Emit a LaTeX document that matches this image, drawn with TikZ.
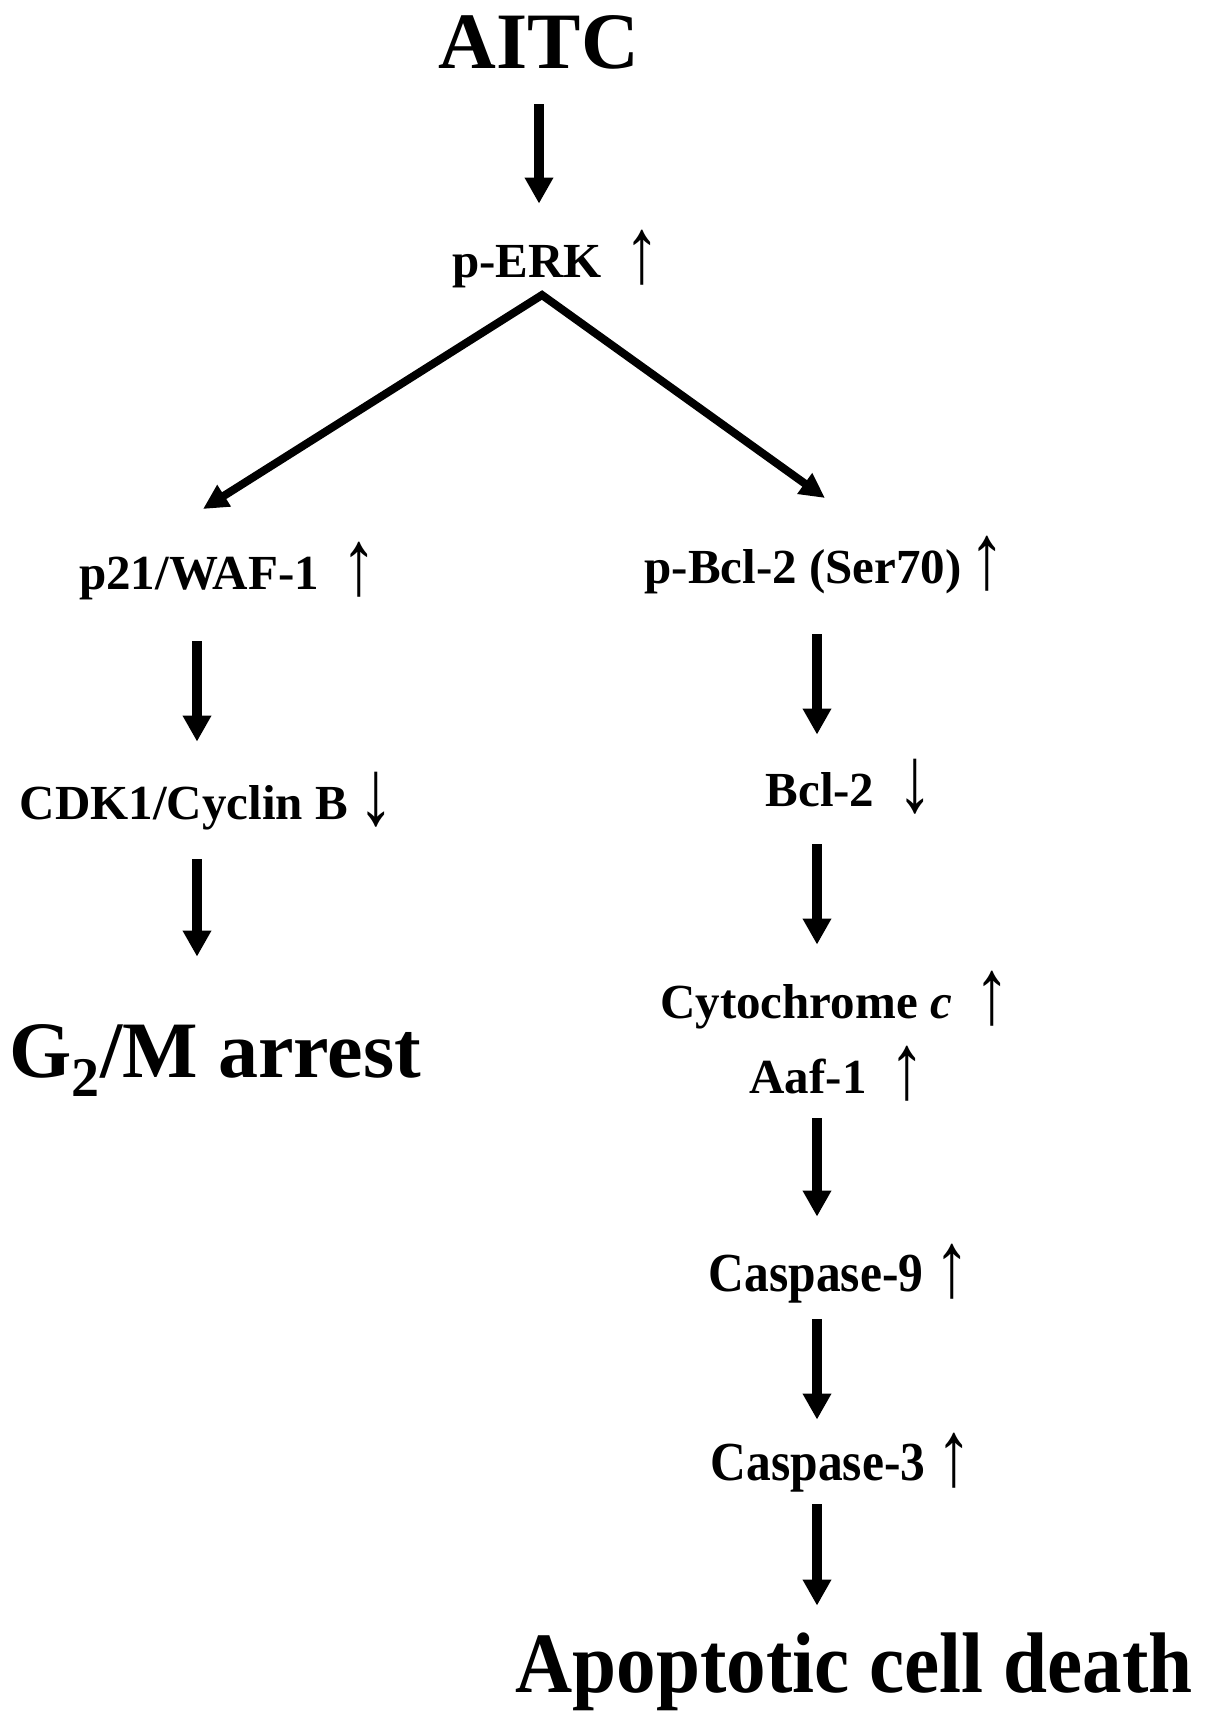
\documentclass[tikz,border=0pt]{standalone}
\usepackage{fontspec}
\usepackage{graphicx}
\setmainfont{Liberation Serif}
\usetikzlibrary{arrows.meta, positioning}

\newcommand{\uparr}{\scalebox{1.45}[1.9]{↑}}
\newcommand{\dnarr}{\scalebox{1.45}[1.9]{↓}}

\begin{document}
\begin{tikzpicture}[x=0.5pt, y=-0.5pt,
  lbl/.style={inner sep=0pt, anchor=base, text height=16pt, text depth=5pt,
              font=\fontsize{24.5}{29}\selectfont\bfseries},
  big/.style={inner sep=0pt, anchor=base, text height=27pt, text depth=0pt,
              font=\fontsize{40}{48}\selectfont\bfseries},
  updn/.style={inner sep=0pt, yshift=-2.5pt, font=\fontsize{24.5}{29}\selectfont},
  vline/.style={-{Triangle[length=13pt, width=13.5pt]}, line width=5pt},
  dline/.style={{Triangle[length=12.5pt, width=12pt]}-{Triangle[length=12.5pt, width=12pt]},
                line width=4pt}]
  \useasboundingbox (0,0) rectangle (1205,1720);
  \coordinate (lcol) at (197,0);
  \coordinate (rcol) at (817,0);

  % top
  \node[big] (aitc) at (539,68) {AITC};
  \node[lbl] (perk) at (527,277) {p-ERK};
  \node[updn, right=11pt of perk.base east, anchor=base west] (perkup) {\uparr};

  % left branch
  \node[lbl] (p21) at (199,589) {p21/WAF-1};
  \node[updn, right=11pt of p21.base east, anchor=base west] (p21up) {\uparr};
  \node[lbl] (cdk) at (184,819) {CDK1/Cyclin B};
  \node[updn, right=5pt of cdk.base east, anchor=base west] (cdkdn) {\dnarr};
  \node[big] (g2m) at (215,1077) {G\textsubscript{2}/M arrest};

  % right branch
  \node[lbl] (pbcl) at (803,583) {p-Bcl-2 (Ser70)};
  \node[updn, right=3.5pt of pbcl.base east, anchor=base west] (pbclup) {\uparr};
  \node[lbl] (bcl) at (820,806) {Bcl-2};
  \node[updn, right=11pt of bcl.base east, anchor=base west] (bcldn) {\dnarr};
  \node[lbl] (cytc) at (806,1018) {Cytochrome \textit{c}};
  \node[updn, right=11pt of cytc.base east, anchor=base west] (cytcup) {\uparr};
  \node[lbl] (aaf) at (808,1093) {Aaf-1};
  \node[updn, right=11pt of aaf.base east, anchor=base west] (aafup) {\uparr};
  \node[lbl] (casp9) at (816,1291)
     {\scalebox{0.9}[1]{\fontsize{27.5}{32}\selectfont Caspase-9}};
  \node[updn, right=5pt of casp9.base east, anchor=base west] (casp9up) {\uparr};
  \node[lbl] (casp3) at (818,1480)
     {\scalebox{0.9}[1]{\fontsize{27.5}{32}\selectfont Caspase-3}};
  \node[updn, right=5pt of casp3.base east, anchor=base west] (casp3up) {\uparr};
  \node[big] (death) at (854,1692)
     {\scalebox{0.92}[1]{\fontsize{43}{50}\selectfont Apoptotic cell death}};

  % connectors
  \draw[vline, shorten <=18pt, shorten >=20.5pt] (aitc.south) -- (aitc.south |- perk.north);
  \coordinate (fork) at (542,295);
  \coordinate (ltip) at (203,509);
  \coordinate (rtip) at (825,498);
  \draw[dline] (ltip) -- (fork) -- (rtip);
  \draw[vline, shorten <=21pt, shorten >=22.5pt] (p21.south -| lcol) -- (cdk.north -| lcol);
  \draw[vline, shorten <=15pt, shorten >=33pt] (cdk.south -| lcol) -- (g2m.north -| lcol);
  \draw[vline, shorten <=20.5pt, shorten >=19.5pt] (pbcl.south -| rcol) -- (bcl.north -| rcol);
  \draw[vline, shorten <=14pt, shorten >=20.5pt] (bcl.south -| rcol) -- (cytc.north -| rcol);
  \draw[vline, shorten <=7.5pt, shorten >=21pt] (aaf.south -| rcol) -- (casp9.north -| rcol);
  \draw[vline, shorten <=9pt, shorten >=14pt] (casp9.south -| rcol) -- (casp3.north -| rcol);
  \draw[vline, shorten <=7pt, shorten >=16pt] (casp3.south -| rcol) -- (death.north -| rcol);
\end{tikzpicture}
\end{document}
